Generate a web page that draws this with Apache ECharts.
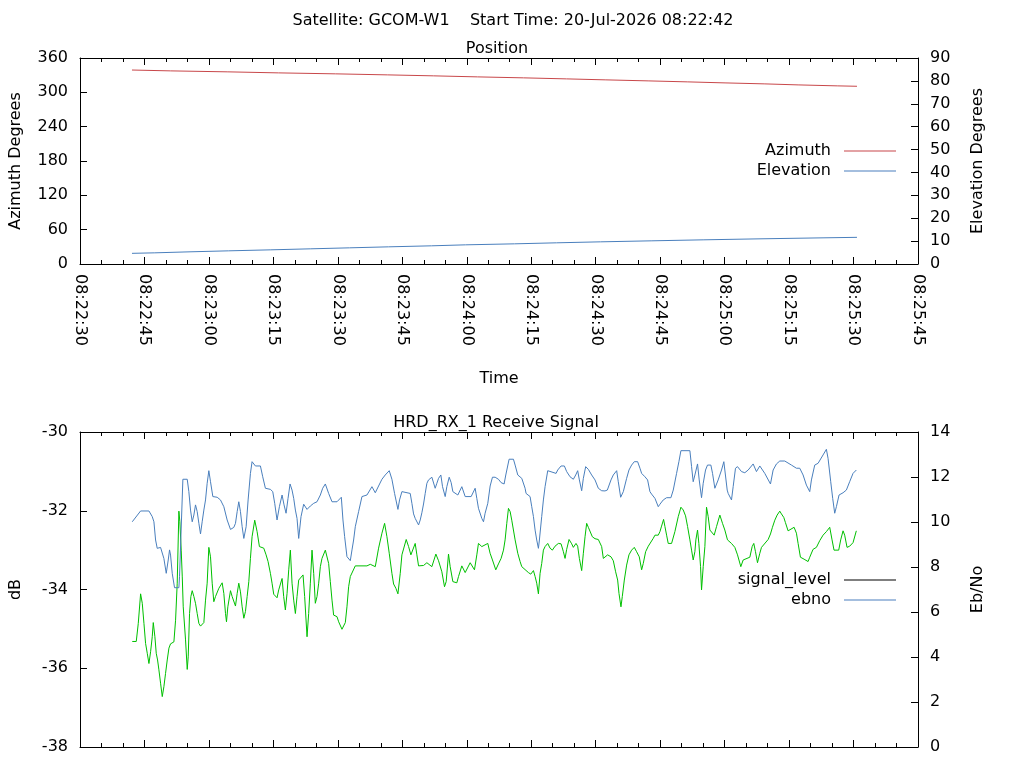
<!DOCTYPE html>
<html>
<head>
<meta charset="utf-8">
<title>GCOM-W1 pass</title>
<script src="https://cdn.jsdelivr.net/npm/echarts@6/dist/echarts.min.js"></script>
<style>
  html, body { margin: 0; padding: 0; background: #fff; }
  #chart { width: 1024px; height: 768px; }
</style>
</head>
<body>
<div id="chart"></div>
<script>
// time values are seconds after 08:22:30 (left edge of the time axis)
const AXIS_START = 8 * 3600 + 22 * 60 + 30;

// Position plot
const azTime = [12.1, 21.1, 34.4, 46.2, 59.5, 71.6, 82.3, 92.5, 103.2, 113.2, 122.2, 132.2, 141.3, 150.1, 159.2, 167.1, 176.2, 180.8];
const azimuth = [339.0, 337.5, 335.8, 334.0, 332.3, 330.5, 328.8, 327.0, 325.3, 323.5, 321.8, 320.0, 318.3, 316.5, 314.8, 313.0, 311.3, 310.6];

const elTime = [12.1, 17.4, 25.6, 34.6, 44.4, 53.7, 62.7, 71.8, 81.8, 89.7, 101.1, 110.9, 121.1, 132.9, 145.0, 158.0, 172.9, 180.8];
const elevation = [4.66, 4.88, 5.32, 5.75, 6.19, 6.63, 7.06, 7.50, 7.94, 8.37, 8.81, 9.25, 9.68, 10.12, 10.56, 10.99, 11.43, 11.65];

// Receive signal plot
const sigTime = [
  12.16, 13.09, 13.56, 14.10, 14.49, 14.88, 15.26, 15.65, 16.04, 16.43, 16.81, 17.05, 17.43, 17.74, 18.05, 18.36, 18.75, 19.14, 19.52, 19.91,
  20.30, 20.69, 21.07, 21.85, 22.24, 22.62, 23.01, 23.24, 23.55, 23.79, 24.02, 24.56, 24.95, 25.18, 25.49, 25.80, 26.11, 26.50, 26.88, 27.27,
  27.66, 28.04, 28.82, 29.21, 29.59, 29.98, 30.37, 30.76, 31.14, 31.53, 32.31, 33.08, 33.47, 33.86, 34.09, 34.40, 35.02, 35.41, 36.18, 36.57,
  36.95, 37.34, 37.73, 38.12, 38.50, 38.89, 39.28, 39.66, 40.04, 40.66, 41.21, 41.75, 42.76, 43.30, 43.76, 44.31, 44.69, 45.08, 45.85, 46.24,
  47.02, 47.40, 47.79, 48.18, 48.57, 48.95, 49.34, 49.73, 50.12, 50.50, 50.89, 51.90, 52.28, 52.83, 53.21, 53.60, 53.99, 54.38, 54.76, 55.15,
  55.54, 55.93, 56.31, 57.09, 57.86, 58.25, 58.64, 59.02, 59.80, 60.19, 60.96, 61.74, 62.12, 62.51, 62.90, 64.06, 66.77, 67.55, 67.93, 68.71,
  69.48, 70.26, 70.88, 71.42, 71.96, 72.58, 72.97, 73.51, 73.98, 74.52, 74.91, 75.91, 76.46, 77.00, 78.00, 78.39, 78.78, 79.94, 80.72, 81.88,
  82.81, 83.43, 84.20, 84.82, 85.21, 85.75, 86.14, 86.76, 87.69, 88.08, 88.85, 89.63, 90.79, 91.79, 92.34, 92.72, 93.50, 94.89, 95.43, 95.98,
  96.75, 97.37, 97.99, 98.54, 98.92, 99.31, 99.70, 100.09, 100.47, 101.25, 101.87, 102.41, 102.80, 104.35, 104.89, 105.51, 105.90, 106.28, 106.67, 107.06,
  107.44, 107.83, 108.22, 108.84, 109.38, 109.92, 110.54, 111.32, 111.94, 112.48, 112.87, 113.25, 113.80, 114.42, 114.80, 115.42, 115.81, 116.20, 116.74, 117.13,
  117.52, 117.90, 118.29, 119.22, 119.84, 120.61, 121.39, 121.78, 122.16, 122.78, 123.56, 124.10, 124.64, 125.11, 125.42, 125.88, 126.19, 126.66, 127.20, 127.74,
  128.36, 128.98, 129.52, 130.14, 130.69, 131.07, 131.62, 132.24, 133.40, 133.79, 134.56, 134.95, 135.33, 135.80, 136.11, 136.50, 136.88, 137.66, 138.43, 139.21,
  139.83, 140.37, 140.91, 141.38, 141.92, 142.31, 142.69, 143.08, 143.31, 143.70, 144.01, 144.40, 144.63, 145.02, 145.41, 145.79, 146.18, 146.57, 147.57, 148.12,
  148.89, 149.51, 150.05, 150.67, 151.60, 152.38, 153.00, 153.77, 154.32, 155.87, 156.41, 156.79, 157.18, 157.65, 158.19, 158.58, 160.13, 160.67, 161.13, 161.68,
  162.22, 162.84, 163.22, 163.77, 164.15, 164.77, 166.17, 166.71, 167.10, 167.64, 168.49, 169.42, 169.81, 170.58, 171.36, 172.13, 172.91, 173.68, 174.46, 175.00,
  175.46, 176.55, 177.01, 177.56, 177.94, 178.49, 179.10, 179.88, 180.65
];
const signalLevel = [
  -35.32, -35.32, -34.86, -34.11, -34.35, -34.86, -35.37, -35.62, -35.88, -35.58, -35.20, -34.84, -35.20, -35.62, -35.79, -36.04, -36.38, -36.72, -36.47, -36.13,
  -35.79, -35.49, -35.38, -35.33, -34.78, -33.84, -32.01, -32.28, -33.00, -33.66, -34.44, -35.28, -36.03, -35.71, -34.61, -34.18, -34.03, -34.18, -34.35, -34.61,
  -34.86, -34.93, -34.84, -34.27, -33.84, -32.93, -33.17, -33.84, -34.31, -34.18, -33.97, -33.83, -34.10, -34.61, -34.82, -34.44, -34.03, -34.18, -34.42, -34.10,
  -33.84, -34.06, -34.44, -34.73, -34.56, -34.18, -33.80, -33.21, -32.66, -32.24, -32.53, -32.91, -32.95, -33.12, -33.29, -33.59, -33.84, -34.12, -34.21, -34.01,
  -33.72, -34.18, -34.52, -34.10, -33.50, -33.00, -33.84, -34.27, -34.61, -34.18, -33.76, -33.63, -34.18, -35.20, -34.61, -33.84, -33.00, -33.59, -34.35, -34.18,
  -33.84, -33.42, -33.21, -33.00, -33.34, -33.80, -34.27, -34.65, -34.69, -34.82, -35.01, -34.84, -34.44, -33.93, -33.67, -33.40, -33.40, -33.36, -33.32, -33.42,
  -32.95, -32.57, -32.32, -32.66, -33.08, -33.59, -33.86, -33.97, -34.11, -33.59, -33.12, -32.73, -32.91, -33.12, -32.83, -33.12, -33.40, -33.39, -33.32, -33.42,
  -33.10, -33.27, -33.55, -33.93, -33.80, -33.10, -33.42, -33.80, -33.83, -33.67, -33.40, -33.57, -33.32, -33.50, -33.12, -32.83, -32.91, -32.83, -33.08, -33.25,
  -33.50, -33.35, -33.21, -33.00, -32.74, -32.32, -31.94, -32.02, -32.24, -32.74, -33.08, -33.29, -33.42, -33.57, -33.61, -33.52, -33.67, -33.84, -34.11, -33.59,
  -33.34, -33.00, -32.91, -32.83, -32.95, -33.00, -32.90, -32.83, -32.84, -33.04, -33.21, -32.98, -32.73, -32.84, -32.93, -32.83, -32.90, -33.21, -33.52, -33.08,
  -32.66, -32.32, -32.42, -32.66, -32.71, -32.73, -32.91, -33.21, -33.17, -33.12, -33.17, -33.27, -33.55, -33.76, -34.10, -34.44, -34.18, -33.76, -33.38, -33.12,
  -33.00, -32.93, -33.04, -33.17, -33.50, -33.34, -33.04, -32.90, -32.70, -32.62, -32.62, -32.53, -32.39, -32.22, -32.40, -32.62, -32.83, -32.83, -32.53, -32.15,
  -31.91, -31.98, -32.13, -32.40, -32.74, -33.00, -33.25, -33.04, -32.74, -32.49, -32.83, -33.42, -34.01, -33.42, -32.91, -31.91, -32.15, -32.49, -32.62, -32.40,
  -32.11, -32.32, -32.49, -32.74, -32.83, -32.93, -33.12, -33.42, -33.25, -33.18, -32.91, -32.83, -33.04, -33.32, -33.08, -32.93, -32.73, -32.59, -32.42, -32.24,
  -32.11, -32.01, -32.08, -32.17, -32.30, -32.51, -32.42, -32.57, -32.83, -33.18, -33.23, -33.29, -33.18, -32.98, -32.93, -32.76, -32.62, -32.53, -32.42, -32.74,
  -33.00, -33.00, -32.74, -32.51, -32.62, -32.93, -32.90, -32.81, -32.51
];

const ebnoTime = [
  12.16, 14.10, 16.04, 16.81, 17.20, 17.59, 17.97, 18.75, 19.14, 19.52, 20.07, 20.53, 20.84, 21.07, 21.46, 22.00, 23.01, 23.16, 23.94, 24.95,
  25.33, 25.72, 26.11, 26.50, 26.88, 27.27, 27.66, 28.04, 28.43, 28.82, 29.21, 29.59, 29.98, 30.37, 30.91, 31.92, 32.69, 33.47, 34.24, 35.02,
  35.79, 36.18, 36.57, 36.95, 37.34, 37.73, 38.12, 38.66, 39.12, 39.66, 40.04, 40.82, 41.98, 42.52, 43.14, 44.31, 44.85, 45.31, 45.85, 46.40,
  47.02, 47.48, 47.95, 48.41, 48.88, 49.34, 49.73, 50.12, 50.50, 50.89, 51.43, 52.05, 52.83, 53.60, 54.38, 55.15, 55.93, 56.47, 57.09, 57.86,
  58.64, 59.80, 60.81, 61.19, 61.58, 62.12, 62.90, 63.29, 63.67, 64.06, 64.83, 65.61, 66.77, 67.16, 67.93, 68.71, 69.48, 70.26, 71.03, 71.96,
  72.58, 73.20, 73.98, 74.36, 74.91, 76.84, 77.23, 77.62, 78.00, 78.78, 79.17, 79.55, 79.94, 80.33, 80.72, 81.10, 81.88, 82.65, 83.04, 83.43,
  83.97, 84.36, 84.98, 85.36, 85.91, 86.37, 86.76, 87.92, 88.85, 89.63, 91.02, 91.95, 92.34, 92.72, 93.50, 93.89, 94.27, 94.89, 95.44, 95.98,
  96.60, 97.37, 97.99, 98.69, 99.08, 99.85, 100.86, 101.25, 101.87, 102.80, 103.57, 103.80, 104.73, 105.12, 105.51, 105.90, 106.28, 106.67, 106.90, 107.44,
  107.83, 108.22, 108.84, 109.23, 110.78, 111.16, 111.94, 112.71, 113.25, 114.03, 114.80, 115.35, 115.81, 116.20, 116.74, 117.13, 117.67, 118.29, 119.06, 119.84,
  120.61, 121.39, 122.16, 122.71, 123.56, 124.10, 124.88, 125.26, 125.81, 126.43, 127.20, 127.74, 128.36, 128.98, 129.76, 130.30, 130.69, 131.46, 132.08, 132.62,
  133.01, 133.79, 134.56, 134.95, 135.72, 136.50, 137.50, 138.05, 138.82, 139.36, 139.83, 141.92, 142.31, 142.69, 143.08, 143.70, 144.09, 144.63, 145.02, 145.56,
  146.02, 146.80, 147.19, 147.73, 148.50, 149.28, 149.82, 150.05, 150.60, 150.83, 151.60, 151.99, 152.53, 153.00, 153.93, 154.70, 155.48, 156.64, 157.41, 158.19,
  158.58, 159.35, 160.67, 161.29, 162.06, 162.84, 164.00, 165.55, 166.71, 167.48, 168.26, 169.03, 169.81, 170.20, 170.97, 171.75, 172.91, 173.68, 174.07, 174.69,
  175.15, 175.62, 176.01, 176.63, 177.56, 178.33, 179.10, 179.88, 180.65
];
const ebno = [
  10.01, 10.49, 10.49, 10.24, 10.01, 9.20, 8.83, 8.87, 8.83, 8.38, 7.72, 8.31, 8.76, 8.53, 7.72, 7.08, 7.08, 7.57, 11.90, 11.90,
  11.35, 10.53, 10.01, 10.31, 10.76, 10.46, 9.94, 9.47, 10.01, 10.53, 10.98, 11.72, 12.28, 11.79, 11.13, 11.10, 10.98, 10.68, 10.09, 9.67,
  9.76, 9.94, 10.46, 10.90, 10.46, 9.79, 9.27, 9.79, 10.98, 12.16, 12.68, 12.49, 12.49, 12.01, 11.50, 11.45, 11.35, 10.83, 10.09, 10.68,
  11.20, 10.76, 10.39, 11.05, 11.69, 11.42, 11.05, 10.53, 10.16, 9.27, 10.24, 10.79, 10.56, 10.71, 10.83, 10.90, 11.20, 11.50, 11.69, 11.27,
  10.90, 10.90, 11.10, 10.09, 9.35, 8.46, 8.28, 8.76, 9.20, 9.79, 10.46, 11.13, 11.20, 11.27, 11.57, 11.30, 11.60, 11.90, 12.09, 12.28,
  11.90, 11.27, 10.56, 10.98, 11.35, 11.27, 10.83, 10.36, 10.16, 9.87, 10.09, 10.41, 10.80, 11.27, 11.72, 11.87, 11.99, 11.50, 11.72, 11.94,
  12.09, 11.57, 11.13, 11.57, 11.99, 11.75, 11.35, 11.20, 11.57, 11.13, 11.13, 11.50, 11.05, 10.61, 10.16, 10.01, 10.39, 10.83, 11.60, 11.99,
  11.99, 11.90, 11.75, 11.69, 12.09, 12.79, 12.79, 12.53, 12.09, 11.94, 11.50, 11.27, 11.13, 10.68, 10.24, 9.64, 9.20, 8.83, 9.20, 10.24,
  10.98, 11.57, 12.28, 12.21, 12.16, 12.31, 12.49, 12.49, 12.24, 12.01, 11.90, 12.09, 12.28, 11.87, 11.39, 11.94, 12.46, 12.34, 12.09, 11.87,
  11.50, 11.39, 11.38, 11.42, 11.87, 12.09, 12.28, 11.79, 11.10, 11.35, 11.94, 12.31, 12.53, 12.68, 12.68, 12.39, 12.16, 12.01, 11.87, 11.35,
  11.24, 11.05, 10.68, 10.79, 10.98, 11.08, 11.08, 11.42, 12.16, 12.68, 13.17, 13.17, 12.46, 11.79, 12.09, 12.58, 11.87, 11.08, 11.72, 12.31,
  12.53, 12.53, 12.16, 11.50, 11.87, 12.31, 12.68, 12.31, 11.42, 11.27, 10.98, 11.57, 12.39, 12.46, 12.24, 12.19, 12.31, 12.58, 12.24, 12.49,
  12.49, 12.16, 11.69, 12.31, 12.58, 12.71, 12.71, 12.53, 12.39, 12.39, 12.09, 11.64, 11.35, 11.87, 12.53, 12.61, 12.98, 13.23, 12.83, 11.79,
  11.05, 10.39, 10.68, 11.20, 11.30, 11.42, 11.79, 12.16, 12.31
];

const timeTicks = { min: 0, max: 195, interval: 15 };

function pairs(xs, ys) {
  return xs.map((x, i) => [x, ys[i]]);
}

function clock(v) {
  const s = AXIS_START + v;
  const pad = n => String(n).padStart(2, '0');
  return pad(Math.floor(s / 3600)) + ':' + pad(Math.floor(s / 60) % 60) + ':' + pad(s % 60);
}

const FONT = 'DejaVu Sans';
const FS = 16;
const black = '#000';

function timeAxis(gridIndex, position, withLabels) {
  return {
    type: 'value',
    gridIndex: gridIndex,
    position: position,
    min: timeTicks.min,
    max: timeTicks.max,
    interval: timeTicks.interval,
    axisLine: { show: true, onZero: false, lineStyle: { color: black, width: 1 } },
    axisTick: { show: true, inside: true, length: 7, lineStyle: { color: black } },
    minorTick: { show: true, splitNumber: 3, length: 4, lineStyle: { color: black } },
    splitLine: { show: false },
    axisLabel: withLabels ? {
      show: true, rotate: -90, margin: 10, fontSize: FS, fontFamily: FONT, color: black,
      formatter: clock
    } : { show: false }
  };
}

function valueAxis(gridIndex, position, min, max, interval, name, nameGap) {
  return {
    type: 'value',
    gridIndex: gridIndex,
    position: position,
    min: min,
    max: max,
    interval: interval,
    name: name,
    nameLocation: 'middle',
    nameRotate: 90,
    nameGap: nameGap,
    nameTextStyle: { fontSize: FS, fontFamily: FONT, color: black },
    axisLine: { show: true, onZero: false, lineStyle: { color: black, width: 1 } },
    axisTick: { show: true, inside: true, length: 7, lineStyle: { color: black } },
    splitLine: { show: false },
    axisLabel: { fontSize: FS, fontFamily: FONT, color: black, margin: 12 }
  };
}

const chart = echarts.init(document.getElementById('chart'), null, { width: 1024, height: 768 });

const titleStyle = { fontSize: FS, fontWeight: 'normal', fontFamily: FONT, color: black };
const legendText = { fontSize: FS, fontFamily: FONT, color: black, lineHeight: 16, padding: [0, 8, 0, 0] };

const option = {
  animation: false,
  backgroundColor: '#fff',
  textStyle: { fontFamily: FONT },
  title: [
    {
      text: 'Satellite: GCOM-W1    Start Time: 20-Jul-2026 08:22:42',
      left: 508, top: 8, textAlign: 'center', textStyle: titleStyle
    },
    { text: 'Position', left: 492, top: 36, textAlign: 'center', textStyle: titleStyle },
    { text: 'HRD_RX_1 Receive Signal', left: 491, top: 410, textAlign: 'center', textStyle: titleStyle }
  ],
  legend: [
    {
      orient: 'vertical', right: 123, top: 138, align: 'right',
      icon: 'rect', itemWidth: 52, itemHeight: 1, itemGap: 4,
      textStyle: legendText,
      data: ['Azimuth', 'Elevation']
    },
    {
      orient: 'vertical', right: 123, top: 567, align: 'right',
      icon: 'rect', itemWidth: 52, itemHeight: 1, itemGap: 4,
      textStyle: legendText,
      data: [{ name: 'signal_level', itemStyle: { color: black } }, 'ebno']
    }
  ],
  grid: [
    { left: 79, right: 106, top: 58, height: 206 },
    { left: 79, right: 106, top: 432, height: 315 }
  ],
  xAxis: [
    Object.assign(timeAxis(0, 'bottom', true), {
      name: 'Time', nameLocation: 'middle', nameGap: 107,
      nameTextStyle: { fontSize: FS, fontFamily: FONT, color: black }
    }),
    timeAxis(0, 'top', false),
    timeAxis(1, 'bottom', false),
    timeAxis(1, 'top', false)
  ],
  yAxis: [
    valueAxis(0, 'left', 0, 360, 60, 'Azimuth Degrees', 56),
    valueAxis(0, 'right', 0, 90, 10, 'Elevation Degrees', 52),
    valueAxis(1, 'left', -38, -30, 2, 'dB', 56),
    valueAxis(1, 'right', 0, 14, 2, 'Eb/No', 52)
  ],
  series: [
    {
      name: 'Azimuth', type: 'line', xAxisIndex: 0, yAxisIndex: 0,
      data: pairs(azTime, azimuth), showSymbol: false, symbol: 'none',
      itemStyle: { color: '#c8474a' }, lineStyle: { color: '#c8474a', width: 1 }
    },
    {
      name: 'Elevation', type: 'line', xAxisIndex: 0, yAxisIndex: 1,
      data: pairs(elTime, elevation), showSymbol: false, symbol: 'none',
      itemStyle: { color: '#4a7fbd' }, lineStyle: { color: '#4a7fbd', width: 1 }
    },
    {
      name: 'signal_level', type: 'line', xAxisIndex: 2, yAxisIndex: 2,
      data: pairs(sigTime, signalLevel), showSymbol: false, symbol: 'none',
      itemStyle: { color: '#00c000' }, lineStyle: { color: '#00c000', width: 1 }
    },
    {
      name: 'ebno', type: 'line', xAxisIndex: 2, yAxisIndex: 3,
      data: pairs(ebnoTime, ebno), showSymbol: false, symbol: 'none',
      itemStyle: { color: '#4a7fbd' }, lineStyle: { color: '#4a7fbd', width: 1 }
    }
  ]
};

chart.setOption(option);
</script>
</body>
</html>
